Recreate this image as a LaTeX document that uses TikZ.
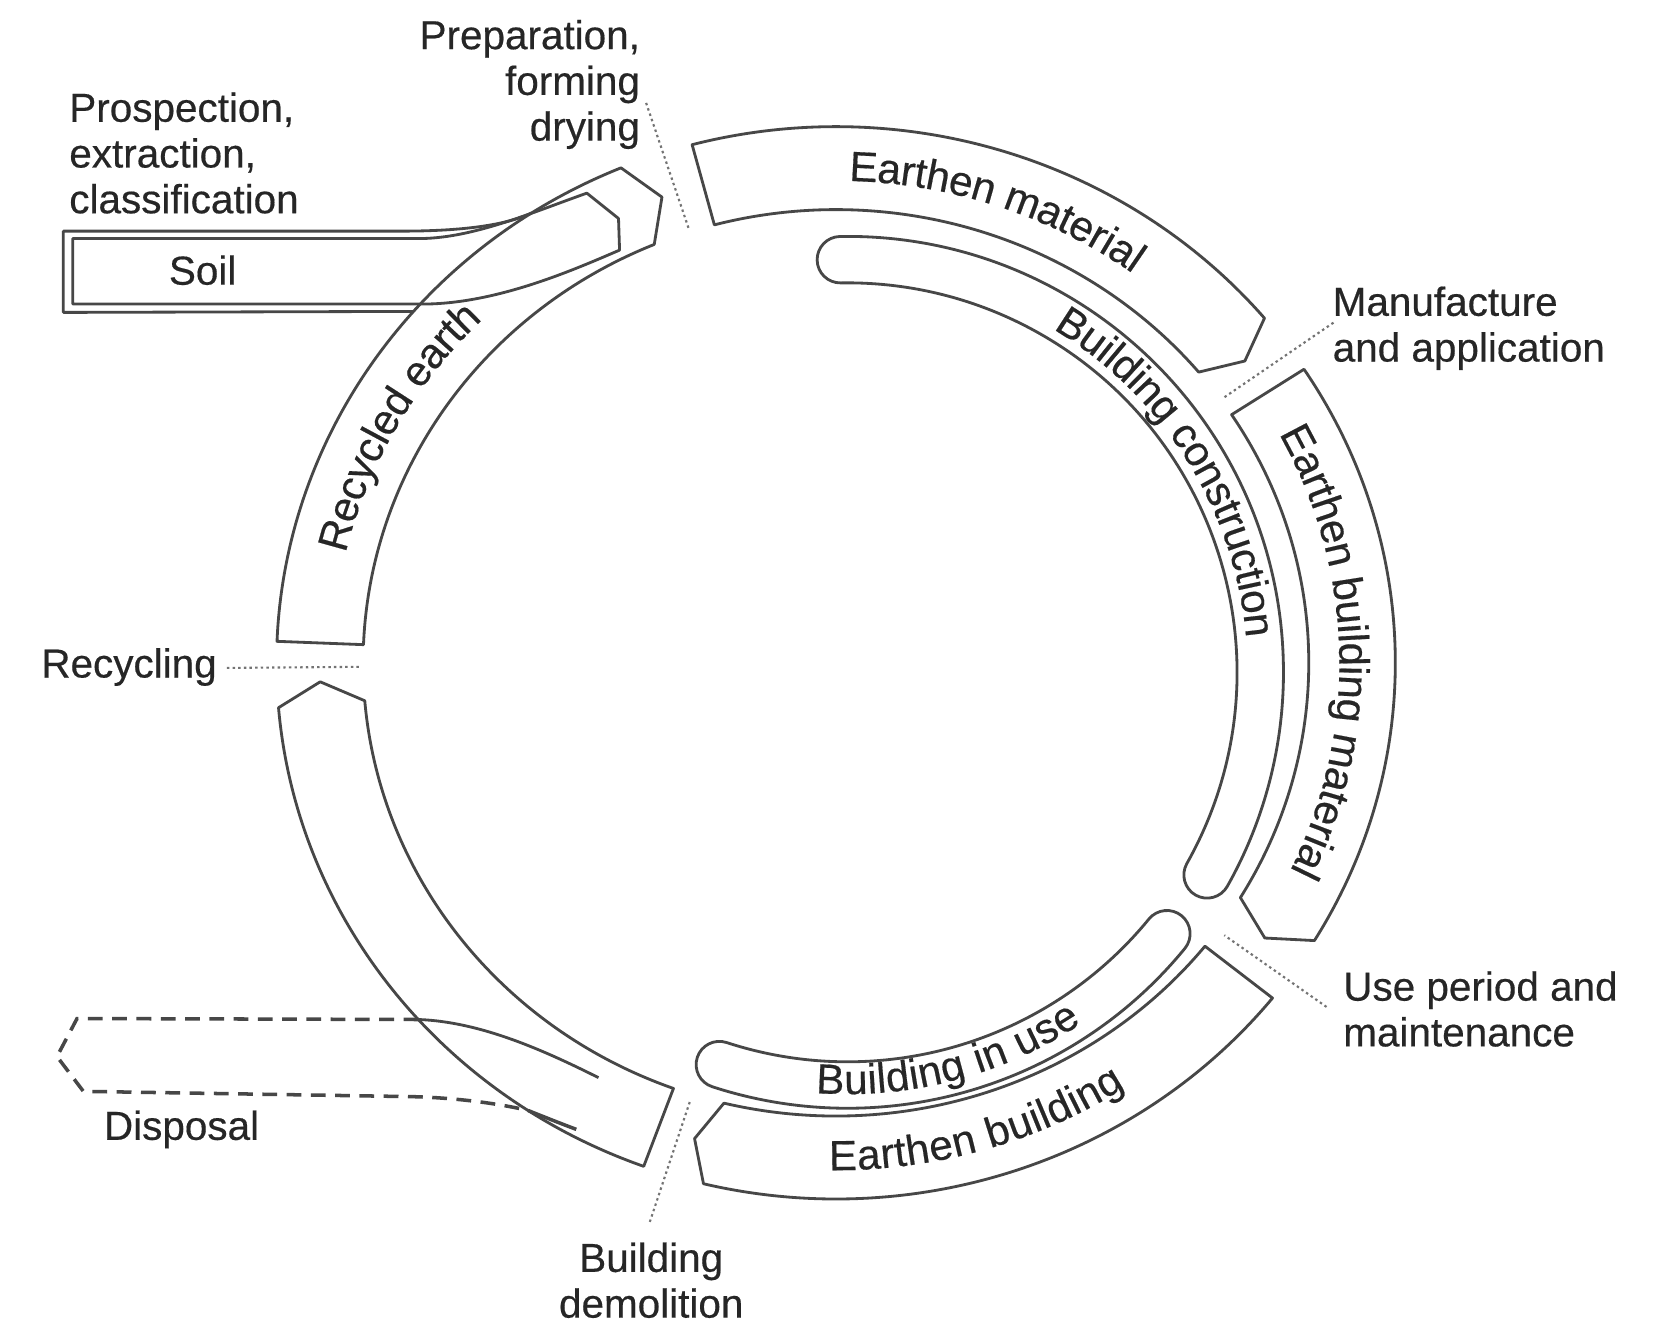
\documentclass[tikz,border=0pt]{standalone}
\usepackage{fontspec}
\setmainfont{Liberation Sans}[FakeBold=0.4]
\usetikzlibrary{decorations.text}
\newcommand{\bandfont}{\fontsize{12}{14}\selectfont\color{black!85}}
\begin{document}
\begin{tikzpicture}[x=0.3pt,y=0.3pt,
  band/.style={draw=black!72, line width=0.8pt, line join=round},
  lbl/.style={inner sep=0pt, text=black!85, font=\fontsize{11.5}{13}\selectfont},
  leader/.style={draw=black!55, line width=0.6pt, dash pattern=on 0.7pt off 0.9pt},
  dispdash/.style={draw=black!72, line width=1pt, dash pattern=on 4.2pt off 2.7pt},
  bandtext/.style={decorate, decoration={text along path, text={|\bandfont|#1}, text align=center, raise=-3.6pt}},
  bandtextin/.style={decorate, decoration={text along path, text={|\bandfont|#1}, text align=center, raise=-2.6pt}}
]
\fill[white] (0,0) rectangle (1568,1253);
\useasboundingbox (0,0) rectangle (1568,1253);

% ---------- outer ring ----------
\begin{scope}[shift={(792,625)}]
  % Earthen material
  \draw[band] (104.9:530 and 508) arc[start angle=104.9, end angle=40, x radius=530, y radius=508]
    -- (37.6:489 and 468.7) -- (39.9:448 and 429.4)
    arc[start angle=39.9, end angle=104.9, x radius=448, y radius=429.4] -- cycle;
  % Earthen building material
  \draw[band] (33.2:530 and 508) arc[start angle=33.2, end angle=-31.2, x radius=530, y radius=508]
    -- (-33.8:489 and 468.7) -- (-31.2:448 and 429.4)
    arc[start angle=-31.2, end angle=33.2, x radius=448, y radius=429.4] -- cycle;
  % Earthen building
  \draw[band] (-38.7:530 and 508) arc[start angle=-38.7, end angle=-103.7, x radius=530, y radius=508]
    -- (-105.9:489 and 468.7) -- (-103.7:448 and 429.4)
    arc[start angle=-103.7, end angle=-38.7, x radius=448, y radius=429.4] -- cycle;
  % lower left band
  \draw[band] (-110.1:530 and 508) arc[start angle=-110.1, end angle=-175.2, x radius=530, y radius=508]
    -- (-177.8:489 and 468.7) -- (-175.2:448 and 429.4)
    arc[start angle=-175.2, end angle=-110.1, x radius=448, y radius=429.4] -- cycle;
  % Recycled earth
  \draw[band] (177.7:530 and 508) arc[start angle=177.7, end angle=112.6, x radius=530, y radius=508]
    -- (109.7:489 and 468.7) -- (112.6:448 and 429.4)
    arc[start angle=112.6, end angle=177.7, x radius=448, y radius=429.4] -- cycle;

  % junction coordinates
  \coordinate (soilJoin) at (123:530 and 508);
  \coordinate (soilBot) at (139.05:530 and 508);
  \coordinate (dispTop) at (-138.3:530 and 508);
  \coordinate (dispBot) at (-123.4:530 and 508);

  % leader end points
  \coordinate (prepIn) at (108:452 and 433.2);
  \coordinate (prepOut) at (108:582 and 557.8);
  \coordinate (manIn) at (35.5:451 and 432.3);
  \coordinate (manOut) at (35.5:579 and 555);
  \coordinate (useIn) at (-36.2:456 and 437);
  \coordinate (useOut) at (-36.2:576 and 552);
  \coordinate (demIn) at (-107.7:453 and 434.2);
  \coordinate (demOut) at (-107.7:580 and 556);
  \coordinate (recIn) at (180.5:449 and 430.4);
  \coordinate (recOut) at (180.5:577 and 553);

  % band texts
  \path[bandtext=Earthen material] (100:489 and 468.7) arc[start angle=100, end angle=42.2, x radius=489, y radius=468.7];
  \path[bandtext=Earthen building material] (31:489 and 468.7) arc[start angle=31, end angle=-28.2, x radius=489, y radius=468.7];
  \path[bandtext=Earthen building] (-100:489 and 468.7) arc[start angle=-100, end angle=-47.4, x radius=489, y radius=468.7];
  \path[bandtext=Recycled earth] (176:489 and 468.7) arc[start angle=176, end angle=125.6, x radius=489, y radius=468.7];
\end{scope}

% ---------- inner ring ----------
\begin{scope}[shift={(803,616)}]
  % Building construction
  \draw[band] (91:413) arc[start angle=91, end angle=-29.4, radius=413]
    arc[start angle=-29.4, end angle=-209.4, radius=22]
    arc[start angle=-29.4, end angle=91, radius=369]
    arc[start angle=271, end angle=91, radius=22] -- cycle;
  % Building in use
  \draw[band] (-39.3:413) arc[start angle=-39.3, end angle=-108.1, radius=413]
    arc[start angle=-108.1, end angle=-288.1, radius=22]
    arc[start angle=-108.1, end angle=-39.3, radius=369]
    arc[start angle=140.7, end angle=-39.3, radius=22] -- cycle;
  \path[bandtext=Building construction] (60:391) arc[start angle=60, end angle=4, radius=391];
  \path[bandtextin=Building in use] (-104:391) arc[start angle=-104, end angle=-46.6, radius=391];
\end{scope}

% ---------- soil input ----------
\draw[band] (soilBot) -- (60,957) -- (60,1034) -- (380,1034)
  .. controls (440,1034) and (480,1040) .. (soilJoin);
\draw[band] (69,965) -- (69,1027) -- (400,1027)
  .. controls (450,1028) and (505,1052) .. (556,1070) -- (586,1046) -- (587,1016)
  .. controls (545,998) and (475,967) .. (407,965) -- cycle;

% ---------- disposal ----------
\draw[dispdash] (dispTop) -- (73,288) -- (54,252) -- (79,219) -- (390,214)
  .. controls (430,213) and (470,208) .. (dispBot);
\draw[band] (dispTop) .. controls (455,285) and (515,258) .. (567,232);
\draw[band, line width=1pt] (dispBot) .. controls (515,195) and (530,189) .. (546,183);

% ---------- labels ----------
\node[lbl, align=right, anchor=east] (prep) at (607,1173) {Preparation,\\forming\\drying};
\node[lbl, align=left, anchor=west] (prosp) at (65,1108) {Prospection,\\extraction,\\classification};
\node[lbl] (soil) at (192,997) {Soil};
\node[lbl, align=left, anchor=west] (manuf) at (1262,942) {Manufacture\\and application};
\node[lbl, anchor=east] (recyc) at (206,621) {Recycling};
\node[lbl, align=left, anchor=west] (usep) at (1272,297) {Use period and\\maintenance};
\node[lbl] (disp) at (172,183) {Disposal};
\node[lbl, align=center] (demol) at (617,40) {Building\\demolition};

% ---------- leaders ----------
\draw[leader] (prepOut) -- (prepIn);
\draw[leader] (manOut) -- (manIn);
\draw[leader] (useOut) -- (useIn);
\draw[leader] (demOut) -- (demIn);
\draw[leader] (recOut) -- (recIn);
\end{tikzpicture}
\end{document}
